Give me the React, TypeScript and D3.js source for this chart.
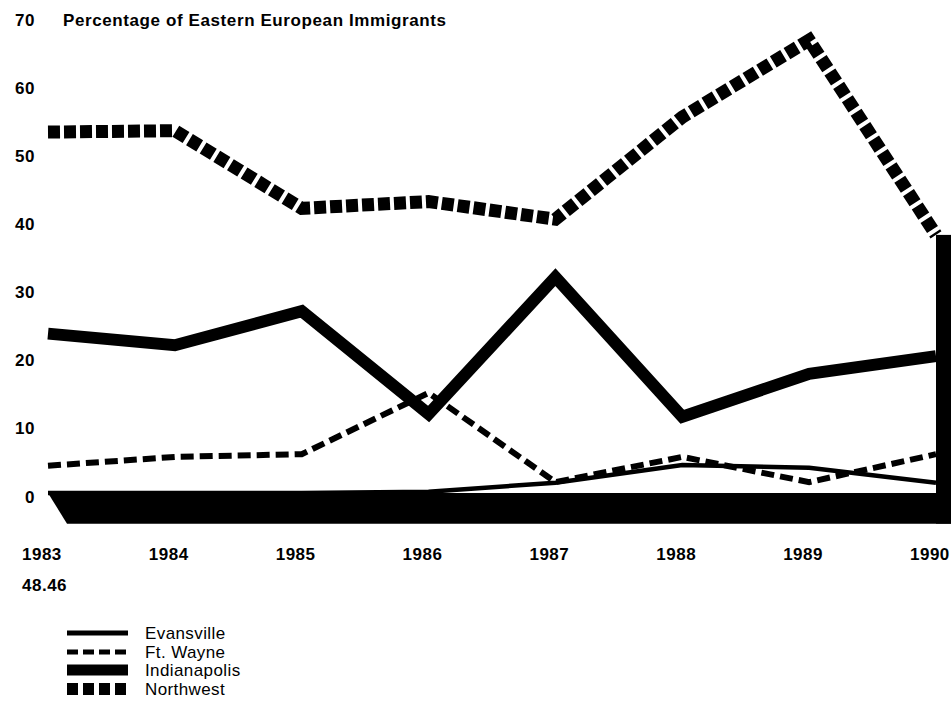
import React from "react";
import * as d3 from "d3";

const years = [1983, 1984, 1985, 1986, 1987, 1988, 1989, 1990];
const evansville = [0, 0, 0, 0.2, 1.5, 4.1, 3.7, 1.5];
const ftWayne = [4.0, 5.3, 5.7, 14.7, 1.6, 5.3, 1.6, 5.7];
const indianapolis = [23.4, 21.7, 26.7, 11.6, 31.7, 11.2, 17.5, 20.1];
const northwest = [53.0, 53.2, 41.8, 42.8, 40.2, 55.2, 66.5, 37.9];
const yTicks = [0, 10, 20, 30, 40, 50, 60, 70];
const baseFloor = -4.5;
const title = "Percentage of Eastern European Immigrants";
const subLabel = "48.46";

const legendItems = [
  { name: "Evansville", width: 5, dash: "none" },
  { name: "Ft. Wayne", width: 5, dash: "11,5" },
  { name: "Indianapolis", width: 11, dash: "none" },
  { name: "Northwest", width: 12, dash: "11,5" },
];

const W = 951;
const H = 720;
const FONT = "'Liberation Sans', Arial, Helvetica, sans-serif";

export default function App() {
  const x = d3.scaleLinear().domain([1983, 1990]).range([48, 936]);
  const y = d3.scaleLinear().domain([0, 70]).range([493, 16.3]);

  const line = d3
    .line<number>()
    .x((_, i) => x(years[i]))
    .y((d) => y(d));

  const barW = 16;
  const xEnd = x(1990) + barW;
  const band = d3.line<[number, number]>()([
    [x(1983), y(0)],
    [xEnd, y(0)],
    [xEnd, y(baseFloor)],
    [x(1983) + 19, y(baseFloor)],
  ]) + "Z";

  const lastNW = northwest[northwest.length - 1];

  return (
    <svg
      width={W}
      height={H}
      style={{ position: "absolute", left: 0, top: 0, background: "#fff" }}
      fontFamily={FONT}
    >
      <rect width={W} height={H} fill="#fff" />
      {/* y tick labels */}
      {yTicks.map((t) => (
        <text
          key={t}
          x={35}
          y={y(t) + 4}
          textAnchor="end"
          dominantBaseline="central"
          fontWeight="bold"
          fontSize={17}
          letterSpacing={0.5}
          fill="#000"
        >
          {t}
        </text>
      ))}
      <text
        x={63}
        y={y(70) + 4}
        dominantBaseline="central"
        fontWeight="bold"
        fontSize={17}
        letterSpacing={0.6}
        fill="#000"
      >
        {title}
      </text>

      {/* baseline band */}
      <path d={band} fill="#000" />
      <rect x={x(1990)} y={y(lastNW)} width={barW} height={y(baseFloor) - y(lastNW)} fill="#000" />

      <path d={line(northwest) || ""} fill="none" stroke="#000" strokeWidth={13} strokeDasharray="12,4" />
      <path d={line(indianapolis) || ""} fill="none" stroke="#000" strokeWidth={12} strokeLinejoin="miter" />
      <path d={line(ftWayne) || ""} fill="none" stroke="#000" strokeWidth={6} strokeDasharray="13,6" />
      <path d={line(evansville) || ""} fill="none" stroke="#000" strokeWidth={4.5} />

      {/* x labels */}
      {years.map((yr) => (
        <text
          key={yr}
          x={x(yr) - 26}
          y={554}
          dominantBaseline="central"
          fontWeight="bold"
          fontSize={17}
          letterSpacing={0.5}
          fill="#000"
        >
          {yr}
        </text>
      ))}
      <text x={22} y={585} dominantBaseline="central" fontWeight="bold" fontSize={17} letterSpacing={0.5} fill="#000">
        {subLabel}
      </text>

      {/* legend */}
      {legendItems.map((it, i) => {
        const ly = [633, 652, 670, 689][i];
        return (
          <g key={it.name}>
            <line
              x1={67}
              x2={128}
              y1={ly}
              y2={ly}
              stroke="#000"
              strokeWidth={it.width}
              strokeDasharray={it.dash}
            />
            <text x={145} y={ly} dominantBaseline="central" fontSize={17} letterSpacing={0.4} fill="#000">
              {it.name}
            </text>
          </g>
        );
      })}
    </svg>
  );
}
